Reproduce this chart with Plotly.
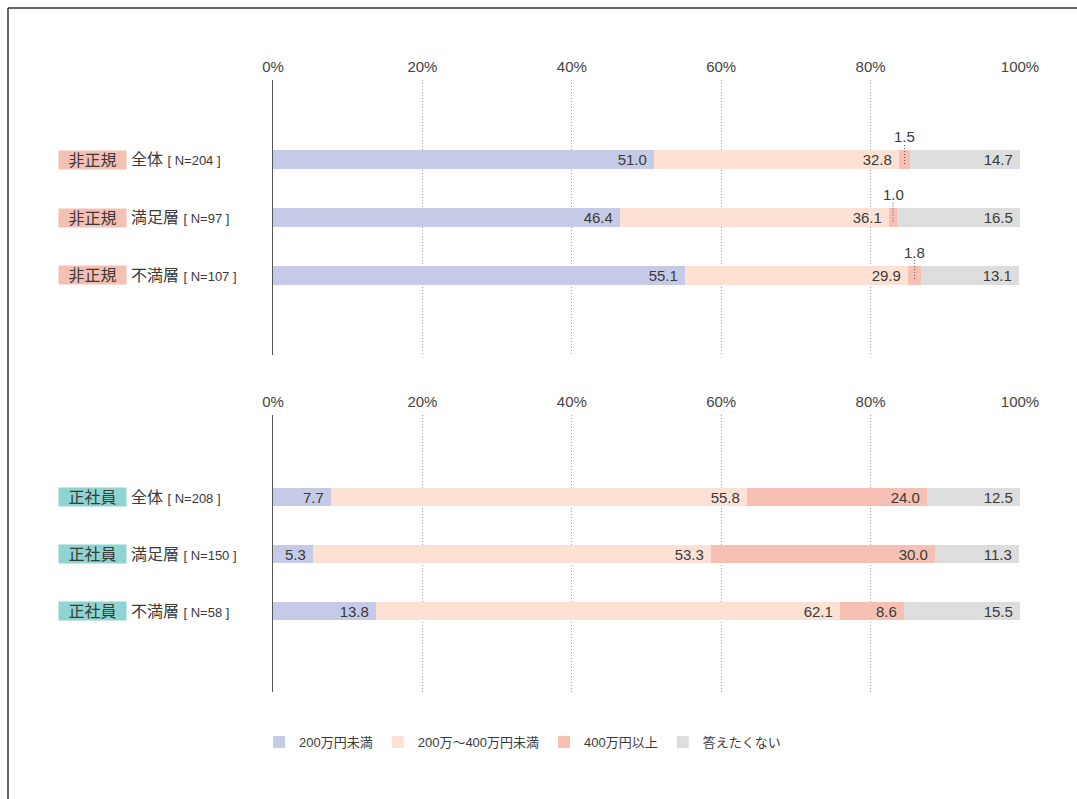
import plotly.graph_objects as go

# ---- data ----
series_names = ["200万円未満", "200万～400万円未満", "400万円以上", "答えたくない"]
series_colors = ["#c5cbe7", "#fde1d5", "#f6c0b4", "#dddddd"]

top_group = "非正規"
top_labels = ["全体", "満足層", "不満層"]
top_n = ["N=204", "N=97", "N=107"]
top_values = [
    [51.0, 46.4, 55.1],   # 200万円未満
    [32.8, 36.1, 29.9],   # 200万～400万円未満
    [1.5, 1.0, 1.8],      # 400万円以上
    [14.7, 16.5, 13.1],   # 答えたくない
]

bot_group = "正社員"
bot_labels = ["全体", "満足層", "不満層"]
bot_n = ["N=208", "N=150", "N=58"]
bot_values = [
    [7.7, 5.3, 13.8],
    [55.8, 53.3, 62.1],
    [24.0, 30.0, 8.6],
    [12.5, 11.3, 15.5],
]

tick_vals = [0, 20, 40, 60, 80, 100]
tick_text = ["0%", "20%", "40%", "60%", "80%", "100%"]

W, H = 1077, 799
FONT = "Liberation Sans, Helvetica, Arial, Noto Sans CJK JP, sans-serif"
TXT = "#3a3a3a"
SMALL_LIMIT = 3.0

def px_x(p):
    return p / W

def px_y(p):
    return 1 - p / H

fig = go.Figure()
annotations = []
shapes = []

panels = [
    ("x", "y", top_group, top_labels, top_n, top_values, "#f4c0b4"),
    ("x2", "y2", bot_group, bot_labels, bot_n, bot_values, "#8fd4d1"),
]

for pi, (xa, ya, group, labels, ns, values, tagcol) in enumerate(panels):
    ypos = list(range(len(labels)))
    for si, name in enumerate(series_names):
        vals = values[si]
        texts = [("" if v < SMALL_LIMIT else f"{v:.1f}\u00a0") for v in vals]
        fig.add_trace(go.Bar(
            x=vals, y=ypos, orientation="h", name=name,
            marker=dict(color=series_colors[si], line=dict(width=0)),
            width=0.33,
            text=texts, textposition="inside", insidetextanchor="end",
            textfont=dict(size=15, color=TXT, family=FONT),
            constraintext="none",
            xaxis=xa, yaxis=ya, showlegend=(pi == 0),
            legendgroup=name, hoverinfo="skip",
        ))
    # small segment labels with dotted leaders
    for ci in range(len(labels)):
        cum = 0.0
        for si in range(len(series_names)):
            v = values[si][ci]
            if v < SMALL_LIMIT:
                cx = cum + v / 2
                annotations.append(dict(
                    x=cx, y=ci - 0.4, xref=xa, yref=ya, text=f"{v:.1f}",
                    showarrow=False, font=dict(size=15, color=TXT, family=FONT),
                    xanchor="center", yanchor="middle"))
                shapes.append(dict(
                    type="line", xref=xa, yref=ya, x0=cx, x1=cx,
                    y0=ci - 0.26, y1=ci + 0.08,
                    line=dict(color="#555555", width=1, dash="1px,2px")))
            cum += v
    # category labels
    for ci, (lab, n) in enumerate(zip(labels, ns)):
        annotations.append(dict(
            x=px_x(58), y=ci, xref="paper", yref=ya, text=group,
            showarrow=False, xanchor="left", yanchor="middle",
            bgcolor=tagcol, width=65, height=16, borderpad=1, align="center",
            font=dict(size=16, color=TXT, family=FONT)))
        annotations.append(dict(
            x=px_x(129), y=ci, xref="paper", yref=ya,
            text=f"{lab} <span style='font-size:13px'>[ {n} ]</span>",
            showarrow=False, xanchor="left", yanchor="middle",
            font=dict(size=16, color=TXT, family=FONT)))

# frame (top and left only)
shapes.append(dict(type="line", xref="paper", yref="paper",
                   x0=px_x(8), x1=1.0, y0=px_y(8), y1=px_y(8),
                   line=dict(color="#333333", width=1.5)))
shapes.append(dict(type="line", xref="paper", yref="paper",
                   x0=px_x(8), x1=px_x(8), y0=px_y(8), y1=0,
                   line=dict(color="#333333", width=1.5)))

xdom = [px_x(273), px_x(1020)]
xaxis_common = dict(
    domain=xdom, range=[0, 100], side="top", tickvals=tick_vals, ticktext=tick_text,
    showgrid=True, gridcolor="#a0a0a0", griddash="1px,2px", gridwidth=1,
    zeroline=False, showline=False, ticks="", fixedrange=True, automargin=False,
    ticklabelstandoff=4,
    tickfont=dict(size=15, color="#444444", family=FONT),
)
yaxis_common = dict(
    showticklabels=False, showgrid=False, zeroline=False, ticks="",
    showline=True, linecolor="#555555", linewidth=1, fixedrange=True, automargin=False,
)

fig.update_layout(
    width=W, height=H, autosize=False,
    margin=dict(l=0, r=0, t=0, b=0, autoexpand=False),
    paper_bgcolor="white", plot_bgcolor="rgba(0,0,0,0)",
    barmode="stack", bargap=0,
    font=dict(family=FONT, color=TXT),
    xaxis=dict(anchor="y", **xaxis_common),
    xaxis2=dict(anchor="y2", **xaxis_common),
    yaxis=dict(anchor="x", domain=[px_y(355), px_y(80)], range=[3.39, -1.39], **yaxis_common),
    yaxis2=dict(anchor="x2", domain=[px_y(692), px_y(415)], range=[3.42, -1.44], **yaxis_common),
    legend=dict(orientation="h", x=px_x(259), y=px_y(742), xanchor="left", yanchor="middle",
                font=dict(size=13, color=TXT, family=FONT), itemwidth=30,
                traceorder="normal", bgcolor="rgba(0,0,0,0)"),
    annotations=annotations, shapes=shapes,
    hovermode=False,
)

fig.write_html("out.html", config={"displayModeBar": False})
